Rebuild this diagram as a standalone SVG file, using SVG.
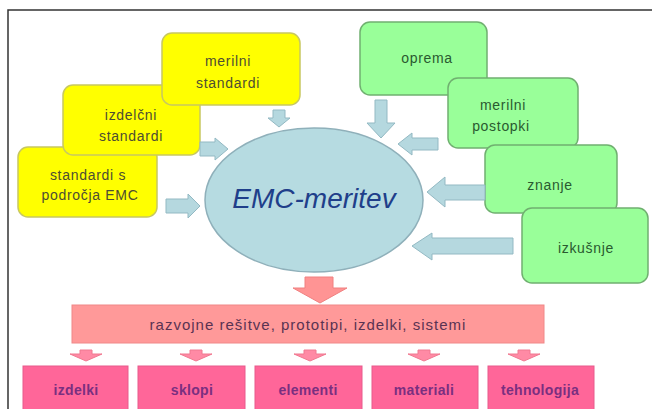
<svg xmlns="http://www.w3.org/2000/svg" width="652" height="409" viewBox="0 0 652 409">
<style>
text{font-family:"Liberation Sans",Arial,sans-serif;text-anchor:middle}
.y{fill:#ffff00;stroke:#c8c860;stroke-width:1.5}
.g{fill:#99ff99;stroke:#70b070;stroke-width:1.5}
.yt{font-size:14px;fill:#4d4d33;letter-spacing:0.7px}
.gt{font-size:14px;fill:#2a5a30;letter-spacing:0.7px}
.ba{fill:#b5d8df;stroke:#93b9c3;stroke-width:1}
.pa{fill:#ff9494;stroke:#f08080;stroke-width:1}
.sa{fill:#ff8aa5;stroke:#f07890;stroke-width:1}
.pb{fill:#ff6699;stroke:#e85a8c;stroke-width:1}
.bt{font-size:14px;fill:#7a2f80;letter-spacing:0.3px;font-weight:bold}
</style>
<rect x="8" y="10" width="680" height="430" fill="#ffffff" stroke="#333333" stroke-width="1.5"/>
<g id="n-standardi-emc"><rect class="y" x="18" y="147" width="139" height="70" rx="10"/><text class="yt" x="88" y="180">standardi s</text><text class="yt" x="90" y="200">področja EMC</text></g>
<g id="n-izdelcni"><rect class="y" x="63" y="85" width="137" height="70" rx="10"/><text class="yt" x="131" y="120">izdelčni</text><text class="yt" x="131" y="141">standardi</text></g>
<g id="n-merilni-std"><rect class="y" x="162" y="33" width="138" height="72" rx="10"/><text class="yt" x="228" y="66">merilni</text><text class="yt" x="228" y="88">standardi</text></g>
<g id="n-oprema"><rect class="g" x="360" y="22" width="127" height="73" rx="10"/><text class="gt" x="427" y="63">oprema</text></g>
<g id="n-postopki"><rect class="g" x="448" y="78" width="130" height="70" rx="10"/><text class="gt" x="503" y="110">merilni</text><text class="gt" x="501" y="131">postopki</text></g>
<g id="n-znanje"><rect class="g" x="485" y="145" width="132" height="68" rx="10"/><text class="gt" x="550" y="190">znanje</text></g>
<g id="n-izkusnje"><rect class="g" x="522" y="208" width="126" height="75" rx="10"/><text class="gt" x="586" y="253">izkušnje</text></g>
<g id="n-emc"><ellipse cx="314" cy="200" rx="109" ry="72" fill="#b6dbe1" stroke="#8fb0ba" stroke-width="1.5"/><text x="314" y="208" font-size="28" font-style="italic" fill="#1f3f8a">EMC-meritev</text></g>
<g id="connectors">
<path class="ba" d="M273,110 H285 V118 H290 L279,127 L268,118 H273 Z"/>
<path class="ba" d="M200,142 H215 V138 L228,149 L215,160 V156 H200 Z"/>
<path class="ba" d="M166,199 H188 V194 L200,206 L188,218 V213 H166 Z"/>
<path class="ba" d="M375,100 H387 V123 H395 L381,138 L367,123 H375 Z"/>
<path class="ba" d="M438,138 H412 V133 L398,144 L412,155 V150 H438 Z"/>
<path class="ba" d="M485,185 H445 V177 L427,192 L445,207 V200 H485 Z"/>
<path class="ba" d="M513,238 H432 V233 L412,246 L432,260 V254 H513 Z"/>
<path class="pa" d="M305,277 H333 V288 H347 L320,303 L293,288 H305 Z"/>
<path class="sa" d="M80,350 H92 V354 H102 L86,361 L70,354 H80 Z"/>
<path class="sa" d="M190,350 H202 V354 H212 L196,361 L180,354 H190 Z"/>
<path class="sa" d="M304,350 H316 V354 H326 L310,361 L294,354 H304 Z"/>
<path class="sa" d="M418,350 H430 V354 H440 L424,361 L408,354 H418 Z"/>
<path class="sa" d="M518,350 H530 V354 H540 L524,361 L508,354 H518 Z"/>
</g>
<g id="n-razvojne"><rect x="72" y="305" width="472" height="38" fill="#ff9999" stroke="#f08888" stroke-width="1"/><text x="308" y="330" font-size="15" fill="#5a3352" letter-spacing="1">razvojne rešitve, prototipi, izdelki, sistemi</text></g>
<g id="n-izdelki"><rect class="pb" x="23" y="366" width="105" height="50"/><text class="bt" x="76" y="395">izdelki</text></g>
<g id="n-sklopi"><rect class="pb" x="138" y="366" width="107" height="50"/><text class="bt" x="192" y="395">sklopi</text></g>
<g id="n-elementi"><rect class="pb" x="255" y="366" width="107" height="50"/><text class="bt" x="308" y="395">elementi</text></g>
<g id="n-materiali"><rect class="pb" x="372" y="366" width="106" height="50"/><text class="bt" x="424" y="395">materiali</text></g>
<g id="n-tehnologija"><rect class="pb" x="488" y="366" width="106" height="50"/><text class="bt" x="540" y="395">tehnologija</text></g>
</svg>
